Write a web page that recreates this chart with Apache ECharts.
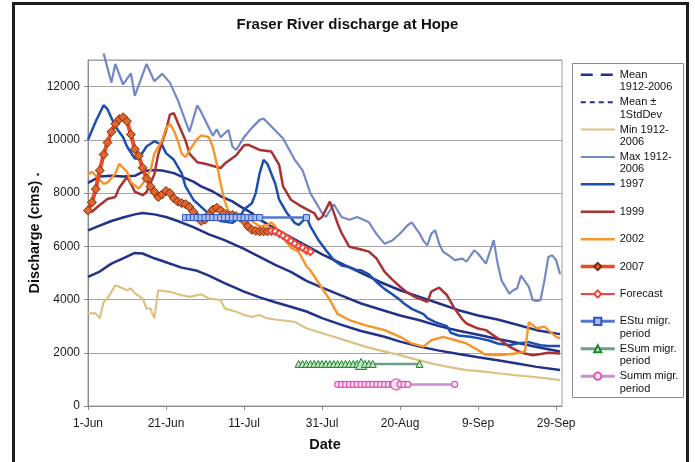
<!DOCTYPE html>
<html><head><meta charset="utf-8">
<script src="https://cdn.jsdelivr.net/npm/echarts@6/dist/echarts.min.js"></script>
<style>html,body{margin:0;padding:0;background:#fff}#c{width:695px;height:462px}</style>
</head><body><div id="c"></div>
<script>
// x values are days after 1-Jun
const xTickLabels = ['1-Jun','21-Jun','11-Jul','31-Jul','20-Aug','9-Sep','29-Sep'];
const yTicks = [0,2000,4000,6000,8000,10000,12000];

const meanFlow = [[0,6600],[3,6780],[6,6950],[9,7080],[12,7200],[14,7250],[17,7200],[20,7100],[23,6950],[27,6720],[31,6450],[35,6230],[40,5900],[44,5600],[48,5300],[52,5040],[56,4700],[60,4450],[65,4150],[70,3850],[76,3580],[80,3400],[85,3220],[90,3000],[95,2830],[100,2680],[105,2520],[110,2380],[115,2220],[121,2050]];
const meanPlusSD = [[0,8380],[3,8620],[6,8650],[9,8620],[12,8650],[14,8800],[16,8870],[19,8850],[22,8750],[24,8620],[27,8430],[29,8250],[32,8060],[34,7880],[37,7690],[39,7500],[42,7250],[44,7000],[47,6750],[50,6500],[55,6100],[60,5700],[65,5350],[70,5000],[75,4650],[80,4350],[85,4100],[90,3850],[95,3600],[100,3400],[105,3250],[110,3050],[115,2850],[121,2700]];
const meanMinusSD = [[0,4850],[3,5050],[6,5350],[9,5550],[12,5750],[14,5730],[17,5550],[20,5400],[24,5200],[28,5080],[31,4900],[35,4620],[40,4300],[44,4080],[48,3900],[52,3730],[56,3550],[60,3300],[65,3050],[70,2820],[76,2600],[80,2420],[85,2230],[90,2080],[95,1950],[100,1830],[105,1720],[110,1600],[115,1470],[121,1350]];
const minFlow = [[0,3480],[2,3480],[3,3290],[4,3900],[5,4050],[7,4530],[8,4480],[10,4350],[11,4420],[12,4230],[14,4040],[15,3670],[16,3660],[17,3290],[18,4350],[21,4290],[24,4160],[26,4100],[29,4200],[31,4040],[34,3980],[35,3670],[38,3540],[40,3420],[42,3350],[44,3420],[46,3290],[49,3230],[53,3160],[56,2920],[59,2780],[63,2600],[67,2420],[71,2230],[75,2080],[80,1910],[84,1750],[88,1600],[92,1480],[97,1350],[101,1300],[105,1230],[110,1150],[114,1100],[118,1030],[121,970]];
const maxFlow = [[4,13250],[6,12150],[7,12850],[9,12080],[11,12500],[12,11650],[15,12850],[17,12200],[19,12480],[21,12150],[23,11500],[26,10300],[28,11300],[29,11050],[32,10150],[33,10400],[34,10100],[36,10380],[37,9750],[38,9620],[40,10100],[42,10450],[44,10750],[45,10800],[47,10500],[50,10050],[53,9250],[55,8850],[57,8000],[60,7250],[61,7100],[63,7580],[65,7100],[67,7000],[69,7100],[72,6900],[74,6450],[76,6100],[78,6220],[80,6480],[82,6800],[83,6900],[85,6480],[86,6200],[87,6040],[88,6480],[89,6600],[90,6100],[91,5800],[93,5600],[94,5480],[96,5540],[97,5420],[99,5850],[100,5720],[102,5350],[104,6230],[105,5350],[106,4720],[108,4220],[109,4350],[110,4420],[111,4900],[113,4480],[114,3980],[115,3950],[116,3980],[117,4720],[118,5600],[119,5660],[120,5480],[121,4950]];
const y1997 = [[0,10000],[2,10700],[4,11300],[5,11150],[7,10500],[9,10100],[10,9750],[12,9300],[13,9300],[15,9750],[17,9950],[19,9800],[20,9500],[22,9250],[24,8750],[25,8250],[27,7750],[30,7350],[32,7100],[34,6950],[37,6880],[39,7100],[40,7380],[42,7620],[43,8000],[44,8750],[45,9250],[46,9100],[48,8350],[49,7750],[51,7250],[53,6880],[54,6800],[56,7100],[57,6750],[59,6250],[61,5850],[63,5480],[65,5280],[67,5220],[69,5100],[70,5100],[72,4950],[74,4650],[76,4400],[78,4200],[80,3980],[81,3850],[83,3650],[86,3450],[87,3300],[89,3150],[92,3000],[93,2750],[95,2650],[98,2600],[100,2550],[103,2450],[105,2350],[108,2280],[110,2350],[113,2400],[116,2280],[118,2250],[121,2250]];
const y1999 = [[0,7350],[1,7300],[3,7550],[5,7780],[7,7850],[8,8200],[10,8600],[11,8350],[12,8050],[14,7920],[15,8040],[17,8700],[18,9450],[20,10350],[21,10950],[22,11000],[23,10650],[25,9980],[26,9480],[28,9160],[30,9100],[33,8980],[34,8940],[35,9100],[38,9420],[40,9800],[41,9820],[44,9620],[47,9560],[49,9060],[50,8250],[52,7750],[54,7560],[56,7400],[58,7250],[59,7000],[60,7100],[62,7680],[64,6850],[65,6500],[67,5980],[70,5880],[72,5800],[74,5540],[76,5050],[78,4750],[80,4480],[82,4250],[84,4080],[86,3970],[87,3910],[88,4300],[90,4450],[92,4170],[94,3650],[96,3250],[97,3100],[100,2910],[102,2850],[104,2650],[106,2450],[108,2230],[110,2080],[112,1970],[114,1910],[116,1950],[118,2000],[121,1970]];
const y2002 = [[0,8700],[1,8800],[3,8500],[4,8350],[5,8400],[7,8730],[8,9100],[10,8800],[11,8400],[13,8170],[14,8350],[16,8850],[17,9480],[19,9980],[20,10450],[21,10600],[22,10350],[23,9980],[24,9480],[25,9350],[26,9600],[28,10040],[29,10170],[31,10100],[32,9730],[33,9100],[34,8350],[35,7730],[36,7290],[38,6980],[40,7100],[42,6950],[44,6750],[46,6800],[47,6900],[48,6750],[49,6500],[51,6150],[52,5950],[54,5800],[56,5250],[57,5100],[59,4650],[62,3980],[64,3450],[67,3230],[71,3040],[76,2850],[80,2600],[83,2350],[86,2230],[88,2470],[91,2600],[94,2480],[97,2350],[100,2100],[102,1920],[106,1910],[110,1980],[112,2050],[113,3150],[115,2920],[117,2980],[118,2850],[120,2600],[121,2540]];
const y2007Days = [0,1,2,3,4,5,6,7,8,9,10,11,12,13,14,15,16,17,18,19,20,21,22,23,24,25,26,27,28,29,30,31,32,33,34,35,36,37,38,39,40,41,42,43,44,45,46,47];
const y2007Vals = [7350,7650,8150,8850,9450,9900,10300,10600,10780,10850,10700,10200,9650,9400,8950,8550,8250,8050,7850,7950,8080,8000,7800,7680,7620,7580,7480,7300,7100,6950,7000,7200,7380,7450,7350,7230,7180,7180,7130,7080,6950,6750,6620,6580,6560,6560,6560,6580];
const forecastDays = [47,48,49,50,51,52,53,54,55,56,57];
const forecastVals = [6580,6560,6480,6400,6300,6200,6100,6000,5950,5850,5800];
const estuDays = [25,26,27,28,29,30,31,32,33,34,35,36,37,38,39,40,41,42,43,44,56];
const estuLevel = 7080;
const esumDays = [54,55,56,57,58,59,60,61,62,63,64,65,66,67,68,69,70,71,72,73,85];
const esumLevel = 1580;
const esumPeakDay = 70;
const summDays = [64,65,66,67,68,69,70,71,72,73,74,75,76,77,78,79,80,81,82,94];
const summLevel = 810;
const summPeakDay = 79;

const FONT = '"Liberation Sans", Arial, sans-serif';
const NAVY = '#22318a', BLUE = '#1d4fb0', MAXC = '#7388c6', MINC = '#dcc283', RED99 = '#a93232', ORG = '#f7942a';

const legendText = {
  'Mean 1912-2006': 'Mean\n1912-2006',
  'Mean ± 1StdDev': 'Mean ±\n1StdDev',
  'Min 1912-2006': 'Min 1912-\n2006',
  'Max 1912-2006': 'Max 1912-\n2006',
  '1997': '1997\n ', '1999': '1999\n ', '2002': '2002\n ', '2007': '2007\n ', 'Forecast': 'Forecast\n ',
  'EStu migr. period': 'EStu migr.\nperiod',
  'ESum migr. period': 'ESum migr.\nperiod',
  'Summ migr. period': 'Summ migr.\nperiod'
};

function lineSeries(name, data, color, width, extra) {
  return Object.assign({
    name, type: 'line', data, symbol: 'circle', showSymbol: false, smooth: false,
    lineStyle: { color, width }, itemStyle: { color }, animation: false, emphasis: { disabled: true }
  }, extra || {});
}
const pair = (days, vals) => days.map((d, i) => [d, vals[i]]);

const noSym = { opacity: 0 };
const option = {
  animation: false,
  title: { text: 'Fraser River discharge at Hope', left: 'center', top: 12,
    textStyle: { fontFamily: FONT, fontSize: 15, fontWeight: 'bold', color: '#111' } },
  grid: { left: 88, right: 133, top: 60, bottom: 56, show: true, borderColor: '#9a9a9a', borderWidth: 1 },
  xAxis: {
    type: 'value', min: 0, max: 121.5, interval: 20,
    axisLine: { lineStyle: { color: '#8a8a8a' } },
    axisTick: { length: 4, lineStyle: { color: '#8a8a8a' } },
    splitLine: { show: false },
    axisLabel: { showMaxLabel: false, margin: 12, color: '#1a1a1a', fontSize: 12, fontFamily: FONT,
      formatter: v => (v % 20 === 0 && xTickLabels[v / 20] !== undefined) ? xTickLabels[v / 20] : '' },
    name: 'Date', nameLocation: 'middle', nameGap: 31,
    nameTextStyle: { fontFamily: FONT, fontSize: 14.5, fontWeight: 'bold', color: '#111' }
  },
  yAxis: {
    type: 'value', min: 0, max: 13000, interval: 2000,
    axisLine: { show: true, lineStyle: { color: '#8a8a8a' } },
    axisTick: { show: true, length: 4, lineStyle: { color: '#8a8a8a' } },
    splitLine: { lineStyle: { color: '#a5a5a5', width: 1 } },
    axisLabel: { showMaxLabel: false, margin: 8, color: '#1a1a1a', fontSize: 12, fontFamily: FONT,
      formatter: v => yTicks.indexOf(v) >= 0 ? String(v) : '' },
    name: 'Discharge (cms) .', nameLocation: 'middle', nameGap: 46, nameMoveOverlap: false,
    nameTextStyle: { fontFamily: FONT, fontSize: 14.5, fontWeight: 'bold', color: '#111' }
  },
  legend: {
    orient: 'vertical', left: 579, top: 56, padding: 0, itemGap: -10.1,
    itemWidth: 34, itemHeight: 9, selectedMode: false,
    textStyle: { fontFamily: FONT, fontSize: 11, color: '#111', lineHeight: 12.5 },
    formatter: name => ' \n' + legendText[name],
    data: [
      { name: 'Mean 1912-2006', itemStyle: noSym, lineStyle: { color: NAVY, width: 2.5, type: [12, 8] } },
      { name: 'Mean ± 1StdDev', itemStyle: noSym, lineStyle: { color: NAVY, width: 2, type: [5, 4] } },
      { name: 'Min 1912-2006', itemStyle: noSym, lineStyle: { width: 2 } },
      { name: 'Max 1912-2006', itemStyle: noSym, lineStyle: { width: 2 } },
      { name: '1997', itemStyle: noSym, lineStyle: { width: 2.5 } },
      { name: '1999', itemStyle: noSym, lineStyle: { width: 2.5 } },
      { name: '2002', itemStyle: noSym, lineStyle: { width: 2.5 } },
      { name: '2007', lineStyle: { width: 3.5 } },
      { name: 'Forecast', lineStyle: { width: 2 } },
      { name: 'EStu migr. period', lineStyle: { width: 3 } },
      { name: 'ESum migr. period', lineStyle: { width: 3 } },
      { name: 'Summ migr. period', lineStyle: { width: 3 } }
    ]
  },
  graphic: [
    { type: 'rect', silent: true, shape: { x: 13.5, y: 3.5, width: 674, height: 500 },
      style: { fill: 'none', stroke: '#1e1e1e', lineWidth: 3 }, z: 100 },
    { type: 'rect', silent: true, shape: { x: 572.5, y: 63.5, width: 111, height: 334 },
      style: { fill: 'none', stroke: '#8a8a8a', lineWidth: 1 }, z: 1 }
  ],
  series: [
    lineSeries('Mean 1912-2006', meanFlow, NAVY, 2.5),
    lineSeries('Mean ± 1StdDev', meanPlusSD, NAVY, 2.5),
    lineSeries('Mean ± 1StdDev', meanMinusSD, NAVY, 2.5),
    lineSeries('Min 1912-2006', minFlow, MINC, 2.2),
    lineSeries('Max 1912-2006', maxFlow, MAXC, 2.2, { clip: false }),
    lineSeries('1997', y1997, BLUE, 2.5),
    lineSeries('1999', y1999, RED99, 2.5),
    lineSeries('2002', y2002, ORG, 2.4),
    {
      name: '2007', type: 'line', data: pair(y2007Days, y2007Vals), animation: false,
      symbol: 'diamond', symbolSize: 9, showSymbol: true,
      lineStyle: { color: '#ef4a22', width: 4 },
      itemStyle: { color: '#e2662c', borderColor: '#7a2c10', borderWidth: 1 }, emphasis: { disabled: true }
    },
    {
      name: 'Forecast', type: 'line', data: pair(forecastDays, forecastVals), animation: false,
      symbol: 'emptyDiamond', symbolSize: 7, showSymbol: true,
      lineStyle: { color: '#f0453a', width: 2 },
      itemStyle: { color: '#f0453a', borderWidth: 1.5 }, emphasis: { disabled: true }
    },
    {
      name: 'EStu migr. period', type: 'line', animation: false,
      data: estuDays.map(d => [d, estuLevel]),
      symbol: 'rect', symbolSize: 6, showSymbol: true,
      lineStyle: { color: '#5576d2', width: 2.5 },
      itemStyle: { color: '#a9bdf0', borderColor: '#2f55bd', borderWidth: 1 }, emphasis: { disabled: true }
    },
    {
      name: 'ESum migr. period', type: 'line', animation: false,
      data: esumDays.map(d => d === esumPeakDay ? { value: [d, esumLevel], symbolSize: 11 } : [d, esumLevel]),
      symbol: 'triangle', symbolSize: 7, showSymbol: true,
      lineStyle: { color: '#6d9f84', width: 2.5 },
      itemStyle: { color: '#bfe3bf', borderColor: '#1b8a2c', borderWidth: 1 }, emphasis: { disabled: true }
    },
    {
      name: 'Summ migr. period', type: 'line', animation: false,
      data: summDays.map(d => d === summPeakDay ? { value: [d, summLevel], symbolSize: 11 } : [d, summLevel]),
      symbol: 'circle', symbolSize: 6, showSymbol: true,
      lineStyle: { color: '#c98ed8', width: 2.5 },
      itemStyle: { color: '#fbe3f3', borderColor: '#e052b4', borderWidth: 1.2 }, emphasis: { disabled: true }
    }
  ]
};
const chart = echarts.init(document.getElementById('c'), null, { renderer: 'canvas' });
chart.setOption(option);
</script>
</body></html>
